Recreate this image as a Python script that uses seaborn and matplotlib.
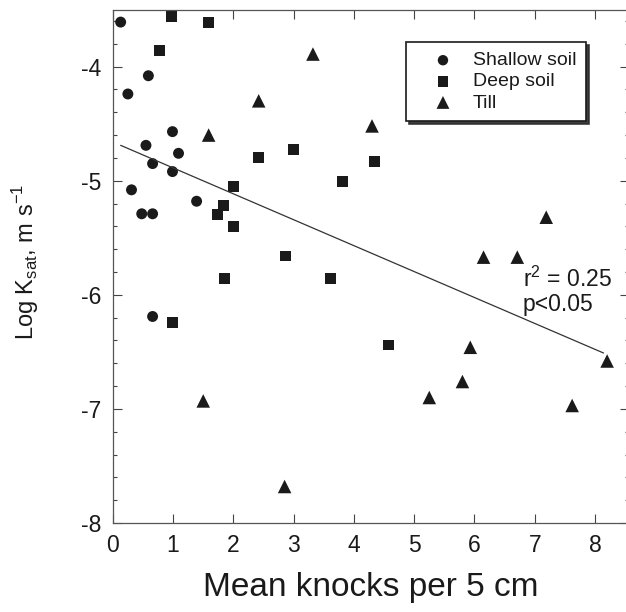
import numpy as np
import pandas as pd
import matplotlib
matplotlib.use("Agg")
import matplotlib.pyplot as plt
from matplotlib.ticker import MultipleLocator
import seaborn as sns

# data
shallow_x = [0.13, 0.59, 0.25, 0.99, 0.55, 1.09, 0.66, 0.99, 0.31, 1.39, 0.48, 0.66, 0.66]
shallow_y = [-3.61, -4.08, -4.24, -4.57, -4.69, -4.76, -4.85, -4.92, -5.08, -5.18, -5.29, -5.29, -6.19]

deep_x = [0.98, 1.59, 0.78, 3.00, 2.42, 4.34, 3.81, 2.00, 1.83, 1.74, 2.00, 2.86, 1.86, 3.61, 0.99, 4.58]
deep_y = [-3.56, -3.61, -3.86, -4.73, -4.80, -4.83, -5.01, -5.05, -5.22, -5.30, -5.40, -5.66, -5.86, -5.86, -6.24, -6.44]

till_x = [3.32, 2.42, 4.30, 1.59, 7.19, 6.15, 6.71, 8.20, 5.93, 5.80, 5.25, 7.62, 1.50, 2.85]
till_y = [-3.89, -4.30, -4.52, -4.60, -5.32, -5.67, -5.67, -6.58, -6.46, -6.76, -6.90, -6.97, -6.93, -7.68]

# regression line end points
fit_x = [0.13, 8.14]
fit_y = [-4.69, -6.51]

groups = ["Shallow soil", "Deep soil", "Till"]
markers = {"Shallow soil": "o", "Deep soil": "s", "Till": "^"}
sizes = {"Shallow soil": 62, "Deep soil": 62, "Till": 95}

df = pd.concat([
    pd.DataFrame({"x": shallow_x, "y": shallow_y, "soil": "Shallow soil"}),
    pd.DataFrame({"x": deep_x, "y": deep_y, "soil": "Deep soil"}),
    pd.DataFrame({"x": till_x, "y": till_y, "soil": "Till"}),
])

sns.set_style("ticks")
plt.rcParams["font.family"] = ["Liberation Sans", "DejaVu Sans"]
plt.rcParams["axes.unicode_minus"] = False

ink = "#1a1a1a"
fig = plt.figure(figsize=(6.26, 6.12), dpi=100)
ax = fig.add_axes([0.1802, 0.1454, 0.8243, 0.839])

for g in groups:
    sub = df[df["soil"] == g]
    sns.scatterplot(data=sub, x="x", y="y", marker=markers[g], s=sizes[g],
                    color=ink, edgecolor="none", linewidth=0, label=g, ax=ax)

sns.lineplot(x=fit_x, y=fit_y, color="#333333", linewidth=0.9, ax=ax)

ax.text(6.80, -5.93, r"r$^\mathregular{2}$ = 0.25", fontsize=16.5, color=ink, va="baseline")
ax.text(6.80, -6.145, "p<0.05", fontsize=16.5, color=ink, va="baseline")

ax.set_xlim(0, 8.56)
ax.set_ylim(-8, -3.5)
ax.xaxis.set_major_locator(MultipleLocator(1))
ax.yaxis.set_major_locator(MultipleLocator(1))
ax.yaxis.set_minor_locator(MultipleLocator(0.2))
ax.tick_params(which="both", direction="in", top=True, right=True, colors="#444444",
               labelcolor=ink, labelsize=16.5, pad=8)
ax.tick_params(which="major", length=6.5, width=0.8)
ax.tick_params(which="minor", length=3, width=0.8)
for sp in ax.spines.values():
    sp.set_color("#555555")
    sp.set_linewidth(0.9)

ax.set_xlabel("Mean knocks per 5 cm", fontsize=24, color=ink, labelpad=11)
ax.set_ylabel(r"Log K$_\mathregular{sat}$, m s$^\mathregular{-1}$", fontsize=17, color=ink)
ax.yaxis.set_label_coords(-0.139, 0.508)

h, l = ax.get_legend_handles_labels()
leg = ax.legend(h, l, loc="upper left", bbox_to_anchor=(0.6486, 0.9314),
                bbox_transform=fig.transFigure, borderaxespad=0, fontsize=14,
                frameon=True, fancybox=False,
                shadow={"color": "#2a2a2a", "alpha": 0.9},
                handletextpad=0.15, borderpad=0.5, labelspacing=0.18,
                handlelength=2.8, markerscale=0.95)
leg.get_frame().set_edgecolor(ink)
leg.get_frame().set_linewidth(1.2)
for t in leg.get_texts():
    t.set_color(ink)

fig.savefig("out.png", dpi=100)
